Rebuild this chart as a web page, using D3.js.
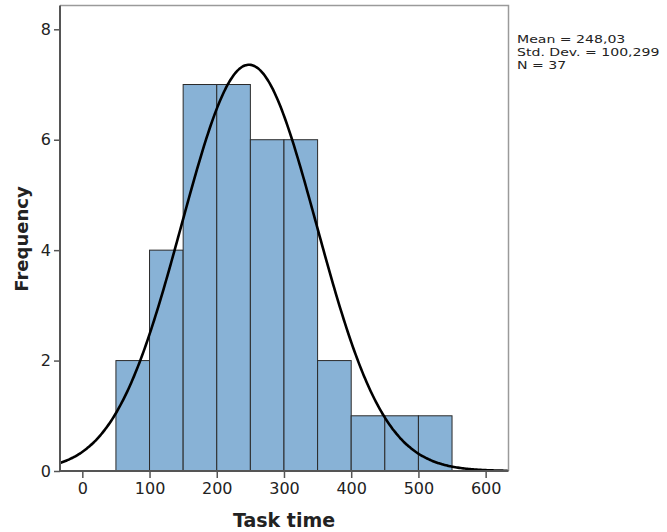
<!DOCTYPE html>
<html>
<head>
<meta charset="utf-8">
<script src="https://cdn.jsdelivr.net/npm/d3@7"></script>
<style>
  body { margin: 0; background: #fff; }
  svg { display: block; font-family: "DejaVu Sans", sans-serif; }
</style>
</head>
<body>
<svg id="chart" width="667" height="532"></svg>
<script>
// Datos del histograma (bins de 50)
const binStarts = [50, 100, 150, 200, 250, 300, 350, 400, 450, 500];
const binWidth = 50;
const counts = [2, 4, 7, 7, 6, 6, 2, 1, 1, 1];
const xTicks = [0, 100, 200, 300, 400, 500, 600];
const yTicks = [0, 2, 4, 6, 8];
const statsLines = ["Mean = 248,03", "Std. Dev. = 100,299", "N = 37"];
const mean = 248.03, sd = 100.299, n = 37;

const svg = d3.select("#chart");

const x = d3.scaleLinear().domain([-33.2, 634]).range([60, 508.5]);
const y = d3.scaleLinear().domain([0, 8]).range([471, 29.3]);
const yTop = 8.43;

// Marco (arriba y derecha)
svg.append("path")
    .attr("d", `M${x(-33.2)},${y(yTop)}H${x(634)}V${y(0)}`)
    .attr("fill", "none")
    .attr("stroke", "#9a9a9a")
    .attr("stroke-width", 1.5);

// Barras
svg.append("g")
    .selectAll("rect")
    .data(binStarts)
    .enter()
    .append("rect")
    .attr("x", d => x(d))
    .attr("y", (d, i) => y(counts[i]))
    .attr("width", d => x(d + binWidth) - x(d))
    .attr("height", (d, i) => y(0) - y(counts[i]))
    .attr("fill", "#88b2d6")
    .attr("stroke", "#2a2a2a")
    .attr("stroke-width", 1);

// Curva normal (a partir de media, desviación y N)
const curvePts = d3.range(-33.2, 634.01, 2).map(v => {
    const z = (v - mean) / sd;
    return [v, n * binWidth * Math.exp(-0.5 * z * z) / (sd * Math.sqrt(2 * Math.PI))];
});
svg.append("path")
    .datum(curvePts)
    .attr("d", d3.line().x(d => x(d[0])).y(d => y(d[1])).curve(d3.curveBasis))
    .attr("fill", "none")
    .attr("stroke", "#000")
    .attr("stroke-width", 2.6);

// Ejes
const xAxis = svg.append("g")
    .attr("transform", `translate(0,${y(0)})`)
    .call(d3.axisBottom(x).tickValues(xTicks).tickSize(7).tickPadding(5).tickSizeOuter(0));
const yAxis = svg.append("g")
    .attr("transform", `translate(${x(-33.2)},0)`)
    .call(d3.axisLeft(y).tickValues(yTicks).tickSize(6).tickPadding(3).tickSizeOuter(0));

[xAxis, yAxis].forEach(a => {
    a.select(".domain").attr("stroke", "#555").attr("stroke-width", 2);
    a.selectAll(".tick line").attr("stroke", "#555").attr("stroke-width", 1.5);
    a.selectAll(".tick text")
        .attr("fill", "#222")
        .style("font-size", "16px")
        .style("font-family", "DejaVu Sans, sans-serif");
});
// eje y extendido hasta el marco superior
yAxis.select(".domain").attr("d", `M0,${y(0)}V${y(yTop)}`);
xAxis.select(".domain").attr("d", `M${x(-33.2)},0H${x(634)}`);

// Títulos de ejes
svg.append("text")
    .attr("x", 284)
    .attr("y", 527)
    .attr("text-anchor", "middle")
    .style("font-size", "19px")
    .style("font-weight", "bold")
    .attr("fill", "#222")
    .text("Task time");

svg.append("text")
    .attr("transform", "translate(28,239) rotate(-90)")
    .attr("text-anchor", "middle")
    .style("font-size", "18px")
    .style("font-weight", "bold")
    .attr("fill", "#222")
    .text("Frequency");

// Estadísticas (texto ensanchado para parecerse al original)
svg.append("g")
    .attr("transform", "translate(517,0) scale(1.28,1)")
    .selectAll("text")
    .data(statsLines)
    .enter()
    .append("text")
    .attr("x", 0)
    .attr("y", (d, i) => 43 + i * 13)
    .style("font-size", "11px")
    .attr("fill", "#222")
    .text(d => d);
</script>
</body>
</html>
